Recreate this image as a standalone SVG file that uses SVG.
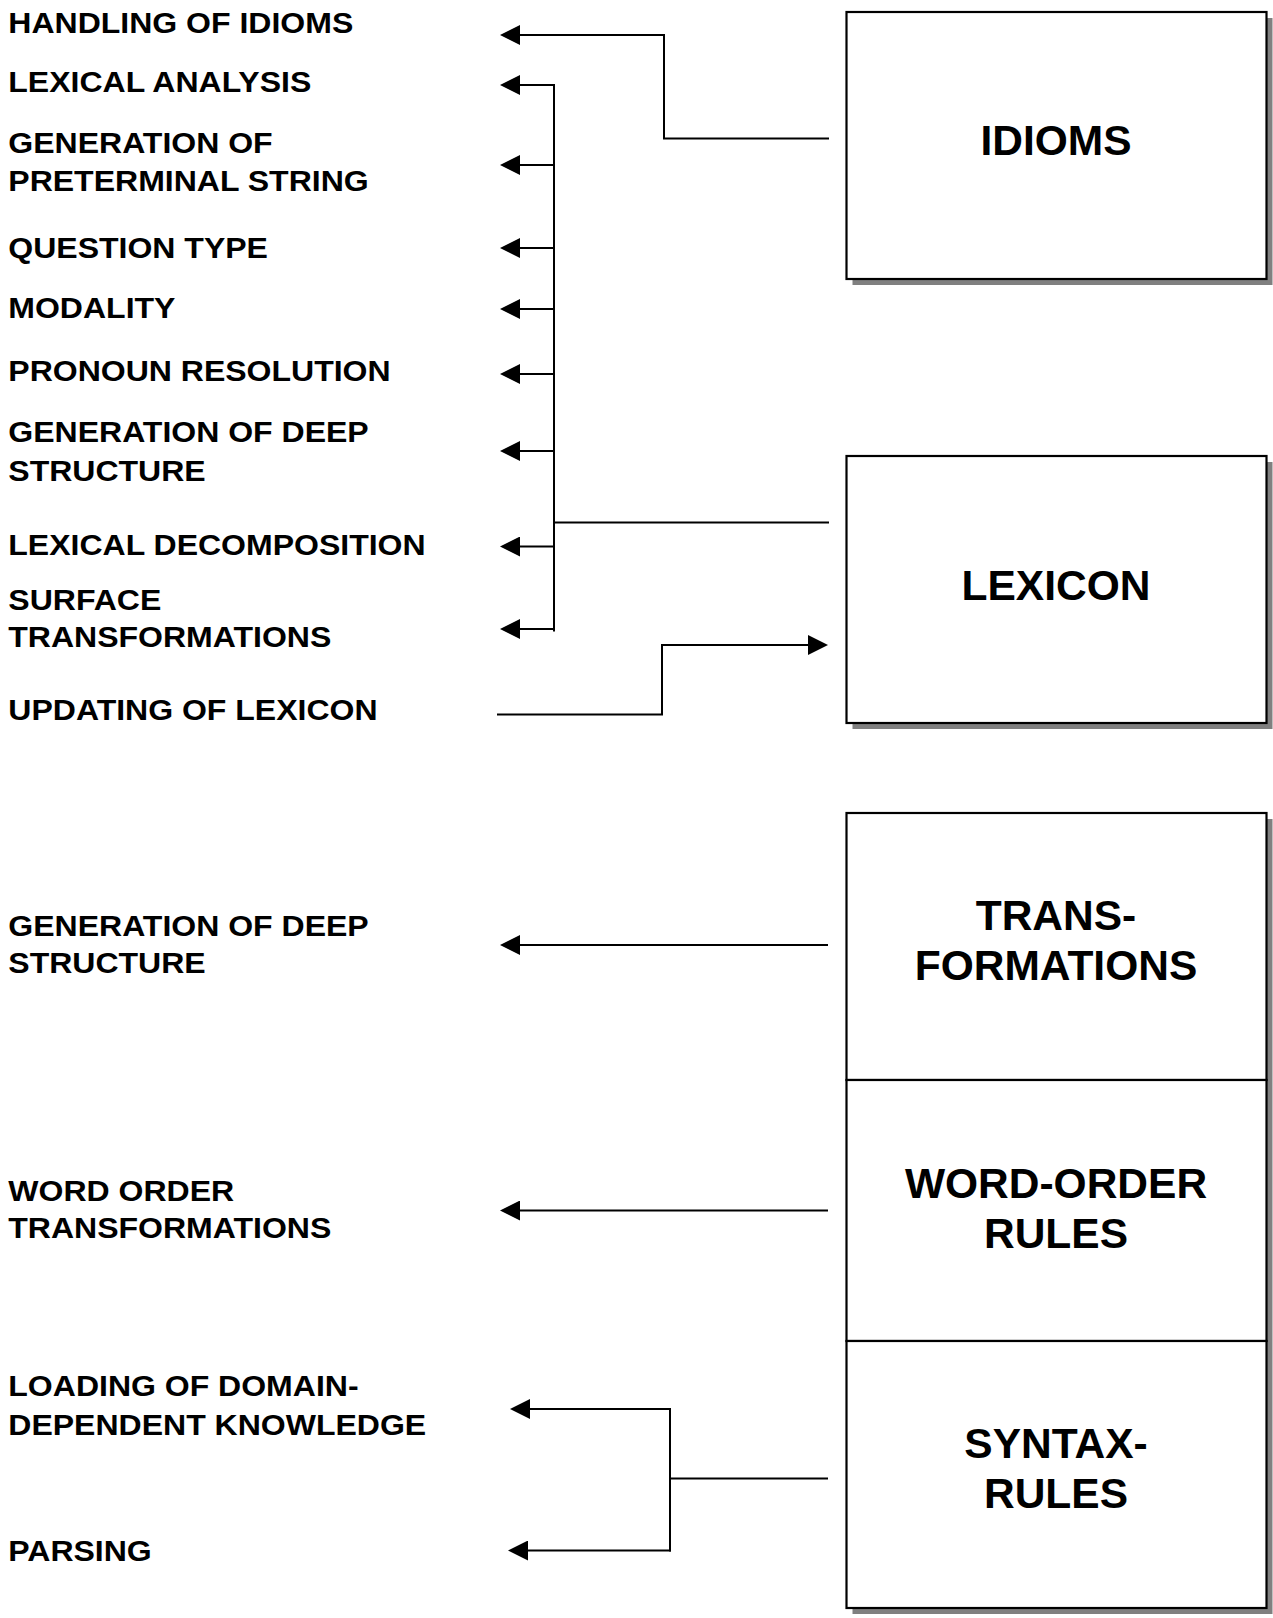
<svg xmlns="http://www.w3.org/2000/svg" width="1273" height="1618" viewBox="0 0 1273 1618">
  <defs>
    <marker id="arrow" viewBox="0 0 20 20" refX="0" refY="10" markerWidth="20" markerHeight="20" markerUnits="userSpaceOnUse" orient="auto">
      <path d="M0,0 L20,10 L0,20 z" fill="#000"/>
    </marker>
  </defs>
  <style>
    .box { fill: #fff; stroke: #000; stroke-width: 2.2; }
    .shadow { fill: #808080; }
    .title { font-family: "Liberation Sans", Arial, sans-serif; font-weight: bold; font-size: 42.5px; text-anchor: middle; fill: #000; }
    .label { font-family: "Liberation Sans", Arial, sans-serif; font-weight: bold; font-size: 30px; fill: #000; }
    .wire { fill: none; stroke: #000; stroke-width: 2; }
    .arr { marker-end: url(#arrow); }
  </style>
  <rect width="1273" height="1618" fill="#fff"/>

  <!-- right-hand component boxes -->
  <g id="idioms">
    <rect class="shadow" x="852.5" y="18" width="420" height="267"/>
    <rect class="box" x="846.5" y="12" width="420" height="267"/>
    <text class="title" x="1056" y="155">IDIOMS</text>
  </g>
  <g id="lexicon">
    <rect class="shadow" x="852.5" y="462" width="420" height="267"/>
    <rect class="box" x="846.5" y="456" width="420" height="267"/>
    <text class="title" x="1056" y="600">LEXICON</text>
  </g>
  <!-- shared shadow under the stacked rule boxes -->
  <rect class="shadow" x="852.5" y="819" width="420" height="795"/>
  <g id="transformations">
    <rect class="box" x="846.5" y="813" width="420" height="267"/>
    <text class="title" x="1056" y="930">TRANS-</text>
    <text class="title" x="1056" y="980">FORMATIONS</text>
  </g>
  <g id="word-order-rules">
    <rect class="box" x="846.5" y="1080" width="420" height="261"/>
    <text class="title" x="1056" y="1198">WORD-ORDER</text>
    <text class="title" x="1056" y="1248">RULES</text>
  </g>
  <g id="syntax-rules">
    <rect class="box" x="846.5" y="1341" width="420" height="267"/>
    <text class="title" x="1056" y="1458">SYNTAX-</text>
    <text class="title" x="1056" y="1508">RULES</text>
  </g>

  <!-- task labels on the left (slightly widened lettering) -->
  <g id="labels" transform="scale(1.067 1)">
    <g id="lbl-handling-idioms"><text class="label" x="7.8" y="33.5">HANDLING OF IDIOMS</text></g>
    <g id="lbl-lexical-analysis"><text class="label" x="7.8" y="92.5">LEXICAL ANALYSIS</text></g>
    <g id="lbl-preterminal"><text class="label" x="7.8" y="153.5">GENERATION OF</text><text class="label" x="7.8" y="191.5">PRETERMINAL STRING</text></g>
    <g id="lbl-question-type"><text class="label" x="7.8" y="258.5">QUESTION TYPE</text></g>
    <g id="lbl-modality"><text class="label" x="7.8" y="318.5">MODALITY</text></g>
    <g id="lbl-pronoun"><text class="label" x="7.8" y="381.5">PRONOUN RESOLUTION</text></g>
    <g id="lbl-deep-structure-1"><text class="label" x="7.8" y="442.5">GENERATION OF DEEP</text><text class="label" x="7.8" y="481.5">STRUCTURE</text></g>
    <g id="lbl-lexical-decomposition"><text class="label" x="7.8" y="555">LEXICAL DECOMPOSITION</text></g>
    <g id="lbl-surface"><text class="label" x="7.8" y="610">SURFACE</text><text class="label" x="7.8" y="647.5">TRANSFORMATIONS</text></g>
    <g id="lbl-updating"><text class="label" x="7.8" y="720">UPDATING OF LEXICON</text></g>
    <g id="lbl-deep-structure-2"><text class="label" x="7.8" y="936.5">GENERATION OF DEEP</text><text class="label" x="7.8" y="973">STRUCTURE</text></g>
    <g id="lbl-word-order"><text class="label" x="7.8" y="1201.5">WORD ORDER</text><text class="label" x="7.8" y="1238.5">TRANSFORMATIONS</text></g>
    <g id="lbl-loading"><text class="label" x="7.8" y="1396.5">LOADING OF DOMAIN-</text><text class="label" x="7.8" y="1435">DEPENDENT KNOWLEDGE</text></g>
    <g id="lbl-parsing"><text class="label" x="7.8" y="1561.5">PARSING</text></g>
  </g>

  <!-- connectors -->
  <g id="connectors">
    <path class="wire arr" d="M829,138.5 H664 V35 H520"/>
    <path class="wire" d="M829,522.5 H554"/>
    <path class="wire" d="M554,84 V631.5"/>
    <path class="wire arr" d="M555,85 H520"/>
    <path class="wire arr" d="M555,165 H520"/>
    <path class="wire arr" d="M555,248 H520"/>
    <path class="wire arr" d="M555,309 H520"/>
    <path class="wire arr" d="M555,374 H520"/>
    <path class="wire arr" d="M555,451 H520"/>
    <path class="wire arr" d="M555,546.5 H520"/>
    <path class="wire arr" d="M555,629 H520"/>
    <path class="wire arr" d="M497,714.5 H662 V645 H808"/>
    <path class="wire arr" d="M828,945 H520"/>
    <path class="wire arr" d="M828,1210.5 H520"/>
    <path class="wire" d="M828,1478.5 H670"/>
    <path class="wire arr" d="M670,1551.5 V1409 H530"/>
    <path class="wire arr" d="M671,1550.5 H528"/>
  </g>
</svg>
